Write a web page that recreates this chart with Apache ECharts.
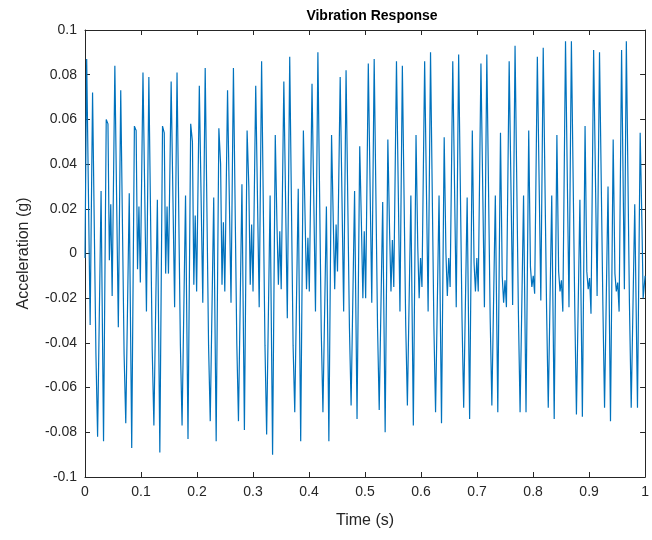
<!DOCTYPE html>
<html>
<head>
<meta charset="utf-8">
<script src="https://cdn.jsdelivr.net/npm/echarts@6/dist/echarts.min.js"></script>
<style>html,body{margin:0;padding:0;background:#fff}#c{width:652px;height:540px}</style>
</head>
<body>
<div id="c"></div>
<script>
// Time stamps (s) of the polyline vertices
var time = [
  0.0000,
  0.0030,0.0092,0.0135,0.0195,0.0225,0.0287,0.0331,0.0379,0.0410,0.0435,0.0460,0.0485,
  0.0533,0.0595,0.0638,0.0698,0.0728,0.0790,0.0834,0.0882,0.0913,0.0938,0.0963,0.0988,
  0.1035,0.1097,0.1140,0.1200,0.1230,0.1292,0.1336,0.1384,0.1415,0.1440,0.1465,0.1490,
  0.1538,0.1600,0.1643,0.1703,0.1733,0.1795,0.1839,0.1887,0.1918,0.1943,0.1968,0.1993,
  0.2041,0.2103,0.2146,0.2206,0.2236,0.2298,0.2342,0.2390,0.2421,0.2446,0.2471,0.2496,
  0.2545,0.2607,0.2650,0.2710,0.2740,0.2802,0.2846,0.2894,0.2925,0.2950,0.2975,0.3000,
  0.3048,0.3110,0.3153,0.3213,0.3243,0.3305,0.3349,0.3397,0.3428,0.3453,0.3478,0.3503,
  0.3550,0.3612,0.3655,0.3715,0.3745,0.3807,0.3851,0.3899,0.3930,0.3955,0.3980,0.4005,
  0.4053,0.4115,0.4158,0.4218,0.4248,0.4310,0.4354,0.4402,0.4433,0.4458,0.4483,0.4508,
  0.4556,0.4618,0.4661,0.4721,0.4751,0.4813,0.4857,0.4905,0.4936,0.4961,0.4986,0.5011,
  0.5058,0.5120,0.5163,0.5223,0.5253,0.5315,0.5359,0.5407,0.5438,0.5463,0.5488,0.5513,
  0.5561,0.5623,0.5666,0.5726,0.5756,0.5818,0.5862,0.5910,0.5941,0.5966,0.5991,0.6016,
  0.6064,0.6126,0.6169,0.6229,0.6259,0.6321,0.6365,0.6413,0.6444,0.6469,0.6494,0.6519,
  0.6566,0.6628,0.6671,0.6731,0.6761,0.6823,0.6867,0.6915,0.6946,0.6971,0.6996,0.7021,
  0.7069,0.7131,0.7174,0.7234,0.7264,0.7326,0.7370,0.7418,0.7449,0.7474,0.7499,0.7524,
  0.7573,0.7635,0.7678,0.7738,0.7768,0.7830,0.7874,0.7922,0.7953,0.7978,0.8003,0.8028,
  0.8076,0.8138,0.8181,0.8241,0.8271,0.8333,0.8377,0.8425,0.8456,0.8481,0.8506,0.8531,
  0.8579,0.8641,0.8684,0.8744,0.8774,0.8836,0.8880,0.8928,0.8959,0.8984,0.9009,0.9034,
  0.9081,0.9143,0.9186,0.9246,0.9276,0.9338,0.9382,0.9430,0.9461,0.9486,0.9511,0.9536,
  0.9580,0.9630,0.9665,0.9720,0.9752,0.9815,0.9864,0.9912,0.9945,0.9965,1.0000
];
// Acceleration (g) at each vertex
var accel = [
  -0.002,
  0.087,-0.032,0.072,-0.045,-0.082,0.028,-0.084,0.060,0.058,-0.003,0.022,-0.019,
  0.084,-0.033,0.073,-0.045,-0.076,0.027,-0.087,0.057,0.055,-0.007,0.021,-0.013,
  0.081,-0.026,0.079,-0.043,-0.077,0.024,-0.089,0.057,0.054,-0.009,0.021,-0.009,
  0.077,-0.024,0.081,-0.041,-0.077,0.026,-0.083,0.058,0.050,-0.014,0.017,-0.017,
  0.075,-0.022,0.083,-0.041,-0.075,0.025,-0.084,0.056,0.040,-0.014,0.014,-0.017,
  0.073,-0.022,0.083,-0.040,-0.075,0.031,-0.079,0.055,0.030,-0.014,0.013,-0.017,
  0.075,-0.024,0.086,-0.041,-0.081,0.026,-0.090,0.053,0.012,-0.014,0.010,-0.016,
  0.077,-0.029,0.088,-0.041,-0.071,0.029,-0.084,0.055,0.015,-0.016,0.007,-0.017,
  0.076,-0.026,0.090,-0.035,-0.071,0.021,-0.084,0.053,0.014,-0.016,0.013,-0.008,
  0.079,-0.026,0.082,-0.033,-0.068,0.028,-0.074,0.048,0.012,-0.020,0.010,-0.020,
  0.085,-0.022,0.087,-0.033,-0.070,0.023,-0.080,0.051,0.010,-0.017,0.006,-0.015,
  0.086,-0.026,0.084,-0.032,-0.068,0.026,-0.077,0.053,0.003,-0.020,-0.002,-0.015,
  0.086,-0.026,0.090,-0.033,-0.071,0.026,-0.076,0.052,0.000,-0.019,-0.002,-0.015,
  0.086,-0.024,0.089,-0.029,-0.069,0.025,-0.074,0.055,-0.004,-0.017,-0.002,-0.017,
  0.085,-0.024,0.089,-0.029,-0.068,0.026,-0.071,0.054,-0.010,-0.022,-0.012,-0.024,
  0.086,-0.023,0.093,-0.027,-0.071,0.026,-0.071,0.055,-0.006,-0.015,-0.010,-0.018,
  0.088,-0.021,0.092,-0.025,-0.069,0.026,-0.074,0.053,-0.008,-0.017,-0.012,-0.026,
  0.095,-0.024,0.095,-0.024,-0.072,0.024,-0.073,0.057,-0.008,-0.016,-0.011,-0.027,
  0.091,-0.019,0.090,-0.023,-0.069,0.030,-0.075,0.051,-0.009,-0.017,-0.013,-0.026,
  0.091,-0.016,0.095,-0.022,-0.069,0.022,-0.069,0.054,0.011,-0.020,-0.010
];
var titleText = 'Vibration Response';
var xName = 'Time (s)';
var yName = 'Acceleration (g)';

var data = time.map(function (t, i) { return [t, accel[i]]; });
var axisColor = '#262626';
var font = '"Liberation Sans", Arial, Helvetica, sans-serif';
function fmt(v) { return String(parseFloat(v.toFixed(2))); }
function boxAxis(extra) {
  var base = {
    type: 'value',
    axisLine: { show: true, onZero: false, lineStyle: { color: axisColor, width: 1 } },
    axisTick: { show: true, inside: true, length: 5, lineStyle: { color: axisColor } },
    splitLine: { show: false }
  };
  for (var k in extra) base[k] = extra[k];
  return base;
}

var chart = echarts.init(document.getElementById('c'), null, { renderer: 'canvas' });
chart.setOption({
  animation: false,
  backgroundColor: '#fff',
  title: {
    text: titleText, left: 367, top: 4, textAlign: 'center',
    textStyle: { fontFamily: font, fontSize: 14, fontWeight: 'bold', color: '#000' }
  },
  grid: { left: 85, right: 2, top: 30, bottom: 63 },
  xAxis: [
    boxAxis({
      min: 0, max: 1, interval: 0.1, position: 'bottom',
      name: xName, nameLocation: 'middle', nameGap: 36,
      nameTextStyle: { fontFamily: font, fontSize: 16, color: axisColor },
      axisLabel: { fontFamily: font, fontSize: 14, color: axisColor, margin: 8, formatter: fmt }
    }),
    boxAxis({
      min: 0, max: 1, interval: 0.1, position: 'top',
      axisLabel: { show: false }
    })
  ],
  yAxis: [
    boxAxis({
      min: -0.1, max: 0.1, interval: 0.02, position: 'left',
      name: yName, nameLocation: 'middle', nameGap: 53, nameRotate: 90,
      nameTextStyle: { fontFamily: font, fontSize: 16, color: axisColor },
      axisLabel: { fontFamily: font, fontSize: 14, color: axisColor, margin: 8, formatter: fmt }
    }),
    boxAxis({
      min: -0.1, max: 0.1, interval: 0.02, position: 'right',
      axisLabel: { show: false }
    })
  ],
  series: [{
    type: 'line', data: data, xAxisIndex: 0, yAxisIndex: 0,
    showSymbol: false, symbol: 'none',
    lineStyle: { color: '#0072BD', width: 1.2 },
    itemStyle: { color: '#0072BD' }
  }]
});
</script>
</body>
</html>
